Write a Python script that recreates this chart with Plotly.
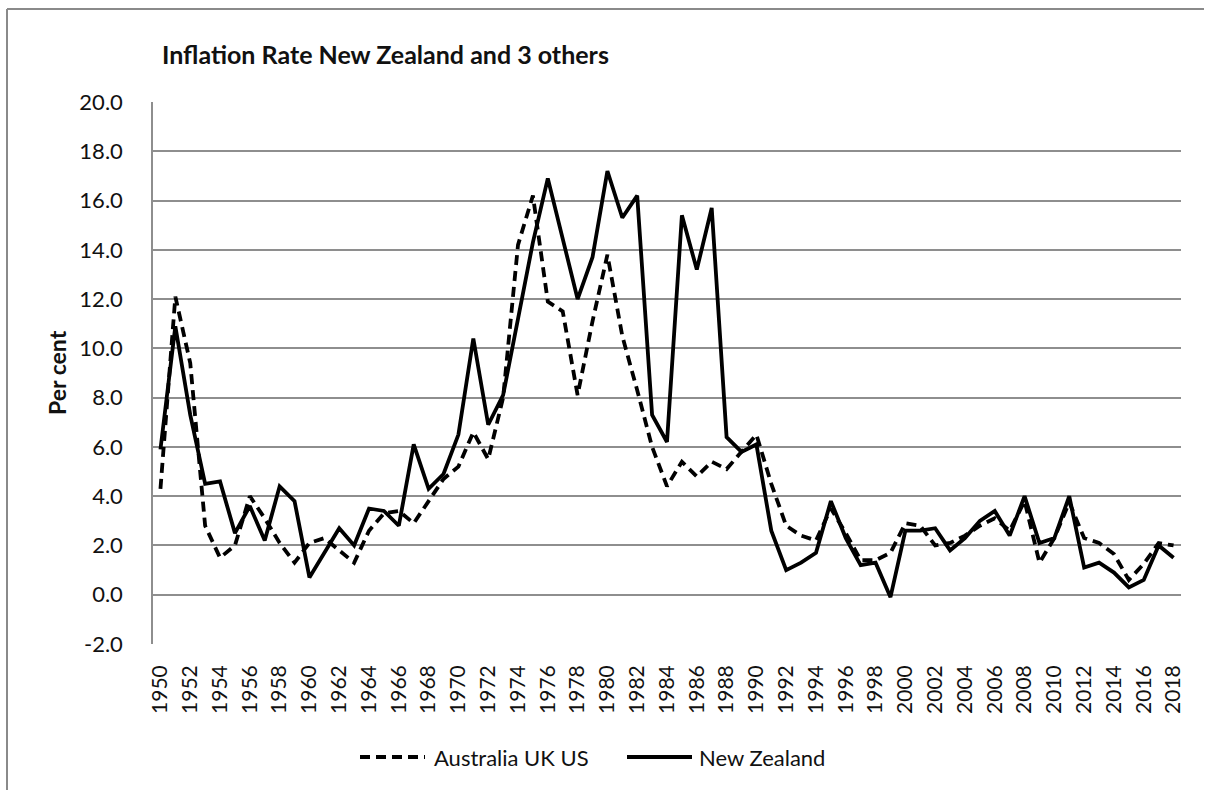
import plotly.graph_objects as go

# Annual CPI inflation, per cent
years = list(range(1950, 2019))

new_zealand = [
    5.9, 10.9, 7.3, 4.5, 4.6, 2.5, 3.6, 2.2, 4.4, 3.8,
    0.7, 1.7, 2.7, 2.0, 3.5, 3.4, 2.8, 6.1, 4.3, 4.9,
    6.5, 10.4, 6.9, 8.1, 11.2, 14.3, 16.9, 14.4, 12.0, 13.7,
    17.2, 15.3, 16.2, 7.3, 6.2, 15.4, 13.2, 15.7, 6.4, 5.8,
    6.1, 2.6, 1.0, 1.3, 1.7, 3.8, 2.3, 1.2, 1.3, -0.1,
    2.6, 2.6, 2.7, 1.8, 2.3, 3.0, 3.4, 2.4, 4.0, 2.1,
    2.3, 4.0, 1.1, 1.3, 0.9, 0.3, 0.6, 2.0, 1.5,
]

aus_uk_us = [
    4.3, 12.1, 9.4, 2.8, 1.5, 2.0, 4.0, 3.1, 2.1, 1.3,
    2.1, 2.3, 1.8, 1.3, 2.6, 3.3, 3.4, 2.9, 3.8, 4.7,
    5.2, 6.6, 5.5, 8.0, 14.2, 16.2, 11.9, 11.5, 8.1, 11.1,
    13.8, 10.5, 8.3, 6.0, 4.4, 5.4, 4.8, 5.4, 5.1, 5.8,
    6.5, 4.5, 2.8, 2.4, 2.2, 3.5, 2.5, 1.4, 1.4, 1.7,
    2.9, 2.8, 2.0, 2.1, 2.4, 2.8, 3.1, 2.6, 3.8, 1.3,
    2.3, 3.75, 2.3, 2.1, 1.65, 0.6, 1.25, 2.1, 2.0,
]

series_names = ["Australia UK US", "New Zealand"]
title_text = "Inflation Rate New Zealand and 3 others"
y_title = "Per cent"
y_ticks = list(range(-2, 21, 2))
y_tick_text = ["%.1f" % v for v in y_ticks]

FONT = "Lato, 'Open Sans', sans-serif"
GRID = "#8e8e8e"
FRAME = "#8a8a8a"
DASH = "10px,6px"
LW = 3.8

W, H = 1205, 791
ML, MR, MT, MB = 153, 24, 102, 147
PW, PH = W - ML - MR, H - MT - MB


def px_x(p):
    return (p - ML) / PW


def px_y(p):
    return (H - MB - p) / PH


fig = go.Figure()
fig.add_trace(go.Scatter(
    x=years, y=aus_uk_us, name=series_names[0], mode="lines",
    line=dict(color="black", width=LW, dash=DASH),
))
fig.add_trace(go.Scatter(
    x=years, y=new_zealand, name=series_names[1], mode="lines",
    line=dict(color="black", width=LW),
))

# outer chart frame: left and top edges, kept inside the page
shapes = [
    dict(type="line", xref="paper", yref="paper",
         x0=px_x(7), x1=px_x(7), y0=px_y(H - 1), y1=px_y(9),
         line=dict(color=FRAME, width=2), layer="below"),
    dict(type="line", xref="paper", yref="paper",
         x0=px_x(7), x1=px_x(W - 1), y0=px_y(9), y1=px_y(9),
         line=dict(color=FRAME, width=2), layer="below"),
]

# legend drawn as line samples with labels
leg_y = px_y(757)
legend_items = [
    (360, 425, 432, series_names[0], DASH),
    (627, 692, 697, series_names[1], "solid"),
]
annotations = []
for x0, x1, tx, label, dash in legend_items:
    shapes.append(dict(type="line", xref="paper", yref="paper",
                       x0=px_x(x0), x1=px_x(x1), y0=leg_y, y1=leg_y,
                       line=dict(color="black", width=LW, dash=dash)))
    annotations.append(dict(xref="paper", yref="paper", x=px_x(tx), y=leg_y,
                            text=label, showarrow=False, xanchor="left",
                            yanchor="middle",
                            font=dict(family=FONT, size=22, color="#111")))

annotations.append(dict(xref="paper", yref="paper", x=px_x(57), y=px_y(373),
                        text="<b>" + y_title + "</b>", showarrow=False,
                        textangle=-90, xanchor="center", yanchor="middle",
                        font=dict(family=FONT, size=23, color="#111")))

fig.update_layout(
    width=W, height=H,
    margin=dict(l=ML, r=MR, t=MT, b=MB),
    paper_bgcolor="white", plot_bgcolor="white",
    showlegend=False,
    title=dict(text="<b>" + title_text + "</b>", xref="container", yref="container",
               x=162 / W, xanchor="left", y=1 - 55 / H, yanchor="middle",
               font=dict(family=FONT, size=25, color="#111")),
    xaxis=dict(
        range=[1949.5, 2018.5], tickmode="array",
        tickvals=years[::2], ticktext=[str(y) for y in years[::2]],
        tickangle=-90, showgrid=False, zeroline=False,
        showline=False, ticks="", ticklabelstandoff=16,
        tickfont=dict(family=FONT, size=21, color="#111"),
    ),
    yaxis=dict(
        range=[-2, 20], tickmode="array",
        tickvals=y_ticks, ticktext=y_tick_text,
        showgrid=True, gridcolor=GRID, gridwidth=1.5,
        zeroline=False, showline=True, linecolor=GRID, linewidth=1.5,
        ticks="", ticklabelstandoff=24,
        tickfont=dict(family=FONT, size=22, color="#111"),
    ),
    shapes=shapes,
    annotations=annotations,
)

fig.write_html("out.html")
